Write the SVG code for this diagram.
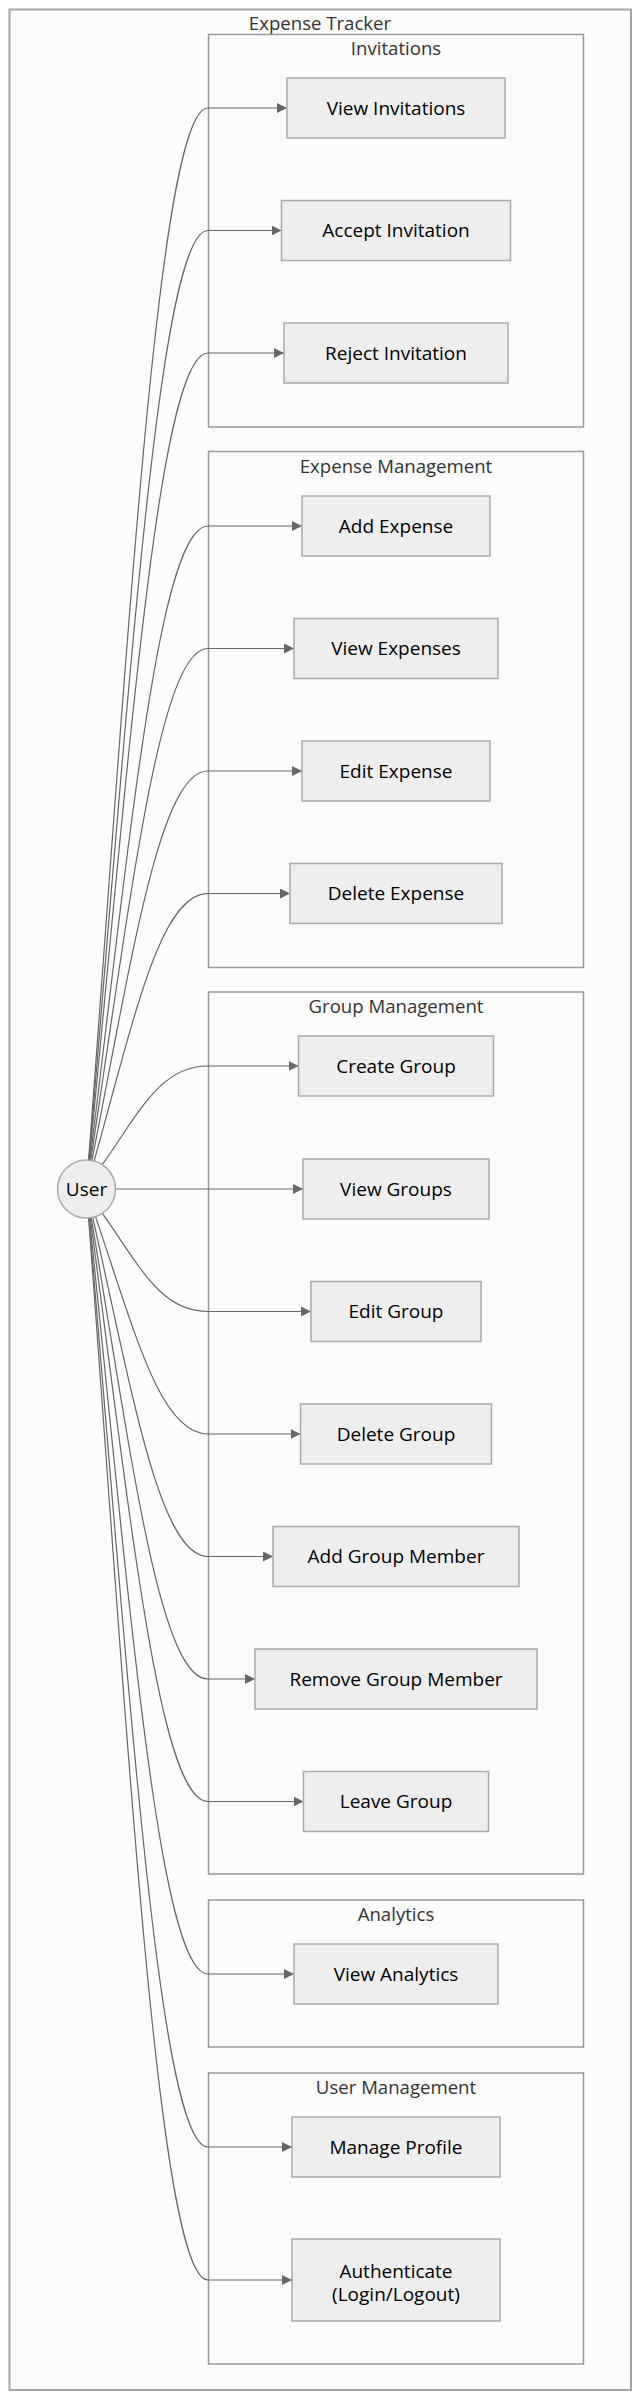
<svg xmlns="http://www.w3.org/2000/svg" width="640" height="2400" viewBox="0 0 640 2400">
<style>
.outer{fill:#fcfcfc;stroke:#a3a3a3;stroke-width:2}
.cluster{fill:#fbfbfb;stroke:#999;stroke-width:1.5}
.ctitle{font-family:"Open Sans","Noto Sans",sans-serif;font-size:18.6px;fill:#333;text-anchor:middle}
.node rect,.node circle{fill:#eeeeee;stroke:#aaaaaa;stroke-width:1.5}
.node text{font-family:"Open Sans","Noto Sans",sans-serif;font-size:19px;fill:#000;text-anchor:middle}
.edge{fill:none;stroke:#666;stroke-width:1.2;marker-end:url(#arrow)}
</style>
<defs>
<marker id="arrow" viewBox="0 0 10 10" refX="10" refY="5" markerWidth="10" markerHeight="10" markerUnits="userSpaceOnUse" orient="auto"><path d="M0,0 L10,5 L0,10 z" fill="#666"/></marker>
</defs>
<rect width="640" height="2400" fill="#ffffff"/>
<g id="cluster-expense-tracker">
<rect class="outer" x="9.5" y="9.5" width="621.5" height="2380.5"/>
<text class="ctitle" x="320" y="30">Expense Tracker</text>
</g>
<g id="cluster-invitations">
<rect class="cluster" x="208.5" y="34.5" width="375" height="392.5"/>
<text class="ctitle" x="396" y="55">Invitations</text>
</g>
<g id="cluster-expense-management">
<rect class="cluster" x="208.5" y="451.5" width="375" height="516"/>
<text class="ctitle" x="396" y="472.5">Expense Management</text>
</g>
<g id="cluster-group-management">
<rect class="cluster" x="208.5" y="992" width="375" height="882"/>
<text class="ctitle" x="396" y="1013">Group Management</text>
</g>
<g id="cluster-analytics">
<rect class="cluster" x="208.5" y="1900" width="375" height="147"/>
<text class="ctitle" x="396" y="1921">Analytics</text>
</g>
<g id="cluster-user-management">
<rect class="cluster" x="208.5" y="2073" width="375" height="291"/>
<text class="ctitle" x="396" y="2094">User Management</text>
</g>
<g id="connectors">
<path class="edge" d="M88.6,1160.1 C130.4,602.5 160,108 208,108 L287,108"/>
<path class="edge" d="M88.9,1160.1 C130.6,667.4 160,230.5 208,230.5 L281.5,230.5"/>
<path class="edge" d="M89.3,1160.1 C130.9,732.3 160,353 208,353 L284,353"/>
<path class="edge" d="M90,1160.2 C131.3,824.1 160,526 208,526 L302,526"/>
<path class="edge" d="M90.7,1160.3 C131.8,889 160,648.5 208,648.5 L294,648.5"/>
<path class="edge" d="M91.9,1160.5 C132.5,954.1 160,771 208,771 L302,771"/>
<path class="edge" d="M94.1,1161 C134,1019.2 160,893.5 208,893.5 L290,893.5"/>
<path class="edge" d="M102.3,1164.7 C139.3,1112.4 160,1066 208,1066 L298.5,1066"/>
<path class="edge" d="M115.5,1189 L303,1189"/>
<path class="edge" d="M102.4,1213.3 C139.3,1265.3 160,1311.5 208,1311.5 L311,1311.5"/>
<path class="edge" d="M95.5,1216.6 C134.9,1331.8 160,1434 208,1434 L300.5,1434"/>
<path class="edge" d="M92.7,1217.3 C133.1,1397.1 160,1556.5 208,1556.5 L273,1556.5"/>
<path class="edge" d="M91.2,1217.6 C132.1,1462.1 160,1679 208,1679 L255,1679"/>
<path class="edge" d="M90.3,1217.8 C131.5,1527.2 160,1801.5 208,1801.5 L303.5,1801.5"/>
<path class="edge" d="M89.4,1217.8 C130.9,1618.6 160,1974 208,1974 L294,1974"/>
<path class="edge" d="M88.9,1217.9 C130.6,1710.3 160,2147 208,2147 L292,2147"/>
<path class="edge" d="M88.6,1217.9 C130.4,1780.8 160,2280 208,2280 L292,2280"/>
</g>
<g id="user" class="node"><circle cx="86.5" cy="1189" r="29"/><text x="86.5" y="1195.8">User</text></g>
<g id="view-invitations" class="node"><rect x="287" y="78" width="218" height="60"/><text x="396" y="114.8">View Invitations</text></g>
<g id="accept-invitation" class="node"><rect x="281.5" y="200.5" width="229" height="60"/><text x="396" y="237.3">Accept Invitation</text></g>
<g id="reject-invitation" class="node"><rect x="284" y="323" width="224" height="60"/><text x="396" y="359.8">Reject Invitation</text></g>
<g id="add-expense" class="node"><rect x="302" y="496" width="188" height="60"/><text x="396" y="532.8">Add Expense</text></g>
<g id="view-expenses" class="node"><rect x="294" y="618.5" width="204" height="60"/><text x="396" y="655.3">View Expenses</text></g>
<g id="edit-expense" class="node"><rect x="302" y="741" width="188" height="60"/><text x="396" y="777.8">Edit Expense</text></g>
<g id="delete-expense" class="node"><rect x="290" y="863.5" width="212" height="60"/><text x="396" y="900.3">Delete Expense</text></g>
<g id="create-group" class="node"><rect x="298.5" y="1036" width="195" height="60"/><text x="396" y="1072.8">Create Group</text></g>
<g id="view-groups" class="node"><rect x="303" y="1159" width="186" height="60"/><text x="396" y="1195.8">View Groups</text></g>
<g id="edit-group" class="node"><rect x="311" y="1281.5" width="170" height="60"/><text x="396" y="1318.3">Edit Group</text></g>
<g id="delete-group" class="node"><rect x="300.5" y="1404" width="191" height="60"/><text x="396" y="1440.8">Delete Group</text></g>
<g id="add-group-member" class="node"><rect x="273" y="1526.5" width="246" height="60"/><text x="396" y="1563.3">Add Group Member</text></g>
<g id="remove-group-member" class="node"><rect x="255" y="1649" width="282" height="60"/><text x="396" y="1685.8">Remove Group Member</text></g>
<g id="leave-group" class="node"><rect x="303.5" y="1771.5" width="185" height="60"/><text x="396" y="1808.3">Leave Group</text></g>
<g id="view-analytics" class="node"><rect x="294" y="1944" width="204" height="60"/><text x="396" y="1980.8">View Analytics</text></g>
<g id="manage-profile" class="node"><rect x="292" y="2117" width="208" height="60"/><text x="396" y="2153.8">Manage Profile</text></g>
<g id="authenticate" class="node"><rect x="292" y="2239" width="208" height="82"/><text x="396" y="2277.5">Authenticate</text><text x="396" y="2300.5">(Login/Logout)</text></g>
</svg>
